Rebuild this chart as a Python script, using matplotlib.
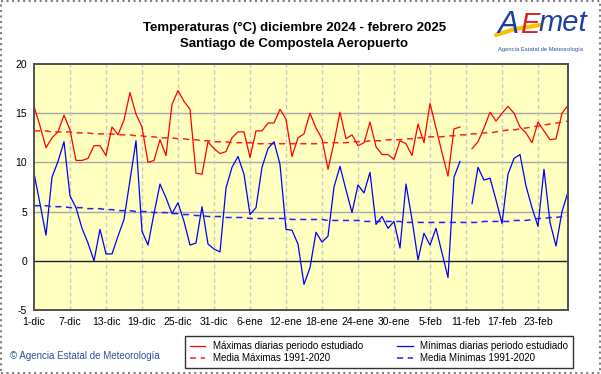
import matplotlib
matplotlib.use("Agg")
import matplotlib.pyplot as plt
import numpy as np
from matplotlib.patches import Rectangle
from matplotlib.lines import Line2D

# daily values, 1 Dec 2024 .. 28 Feb 2025 (None = missing day)
max_temp = [15.7, 13.7, 11.5, 12.5, 13.1, 14.8, 13.3, 10.2, 10.2, 10.4,
            11.7, 11.7, 10.7, 13.6, 12.8, 14.3, 17.1, 14.9, 13.6, 10.0,
            10.2, 12.3, 10.7, 15.9, 17.3, 16.2, 15.4, 8.9, 8.8, 12.1,
            11.4, 10.9, 11.1, 12.5, 13.1, 13.1, 10.5, 13.2, 13.2, 14.0,
            14.0, 15.4, 14.4, 10.6, 12.5, 12.9, 15.0, 13.5, 12.4, 9.3,
            12.0, 15.1, 12.4, 12.8, 11.7, 12.0, 14.1, 11.6, 10.8, 10.8,
            10.3, 12.2, 11.9, 10.7, 13.9, 12.0, 16.0, 13.5, 11.0, 8.6,
            13.4, 13.6, None, 11.4, 12.1, 13.5, 15.1, 14.2, 15.0, 15.7,
            15.0, 13.6, 13.0, 12.0, 14.1, 13.2, 12.3, 12.4, 15.0, 15.8]

min_temp = [8.9, 5.8, 2.6, 8.5, 10.1, 12.1, 6.6, 5.4, 3.3, 1.8,
            0.0, 3.2, 0.7, 0.7, 2.5, 4.2, 8.2, 12.2, 3.0, 1.6,
            4.8, 7.8, 6.4, 4.8, 5.9, 4.0, 1.6, 1.8, 5.5, 1.7,
            1.2, 0.9, 7.4, 9.5, 10.6, 8.8, 4.7, 5.4, 9.5, 11.4,
            12.1, 9.8, 3.2, 3.1, 1.7, -2.4, -0.7, 2.9, 1.9, 2.5,
            7.5, 9.6, 7.2, 4.9, 7.7, 6.9, 9.0, 3.7, 4.5, 3.3,
            4.0, 1.3, 7.8, 4.2, 0.1, 2.8, 1.6, 3.3, 0.8, -1.7,
            8.5, 10.1, None, 5.8, 9.5, 8.2, 8.4, 6.2, 3.8, 8.8,
            10.4, 10.8, 7.6, 5.4, 3.5, 9.3, 3.9, 1.5, 5.0, 7.0]

mean_max = [13.2, 13.2, 13.2, 13.1, 13.1, 13.1, 13.1, 13.0, 13.0, 13.0,
            12.9, 12.9, 12.9, 12.9, 12.8, 12.8, 12.8, 12.7, 12.7, 12.6,
            12.6, 12.5, 12.5, 12.5, 12.4, 12.4, 12.3, 12.3, 12.2, 12.2,
            12.1, 12.1, 12.1, 12.0, 12.0, 12.0, 12.0, 11.9, 11.9, 11.9,
            11.9, 11.9, 11.9, 11.9, 11.9, 11.9, 11.9, 11.9, 12.0, 12.0,
            12.0, 12.0, 12.0, 12.1, 12.1, 12.1, 12.2, 12.2, 12.2, 12.3,
            12.3, 12.3, 12.4, 12.4, 12.5, 12.5, 12.6, 12.6, 12.6, 12.7,
            12.7, 12.8, 12.8, 12.9, 12.9, 13.0, 13.0, 13.1, 13.2, 13.3,
            13.3, 13.4, 13.5, 13.6, 13.7, 13.8, 13.9, 14.0, 14.1, 14.2]

mean_min = [5.6, 5.6, 5.6, 5.5, 5.5, 5.5, 5.4, 5.4, 5.4, 5.3,
            5.3, 5.3, 5.2, 5.2, 5.1, 5.1, 5.1, 5.0, 5.0, 5.0,
            4.9, 4.9, 4.9, 4.8, 4.8, 4.7, 4.7, 4.6, 4.6, 4.5,
            4.5, 4.5, 4.4, 4.4, 4.4, 4.4, 4.3, 4.3, 4.3, 4.3,
            4.3, 4.3, 4.3, 4.2, 4.2, 4.2, 4.2, 4.2, 4.2, 4.1,
            4.1, 4.1, 4.1, 4.1, 4.1, 4.0, 4.0, 4.0, 4.0, 4.0,
            4.0, 4.0, 3.9, 3.9, 3.9, 3.9, 3.9, 3.9, 3.9, 3.9,
            3.9, 3.9, 3.9, 3.9, 3.9, 4.0, 4.0, 4.0, 4.0, 4.0,
            4.1, 4.1, 4.1, 4.2, 4.3, 4.3, 4.4, 4.4, 4.5, 4.6]

tick_labels = ["1-dic", "7-dic", "13-dic", "19-dic", "25-dic", "31-dic",
               "6-ene", "12-ene", "18-ene", "24-ene", "30-ene",
               "5-feb", "11-feb", "17-feb", "23-feb"]

plt.rcParams['font.family'] = ['Liberation Sans', 'DejaVu Sans']
plt.rcParams['axes.unicode_minus'] = False

days = np.arange(len(max_temp))
mx = np.array([np.nan if v is None else v for v in max_temp])
mn = np.array([np.nan if v is None else v for v in min_temp])

fig = plt.figure(figsize=(6.01, 3.74), dpi=100)
ax = fig.add_axes([34/601, 64/374, 534/601, 246/374])
ax.set_facecolor('#ffffc0')

ax.plot(days, mx, color='#ff0000', lw=0.9, label='Máximas diarias periodo estudiado')
ax.plot(days, mean_max, color='#ff2020', lw=1.1, ls=(0, (4, 3)), label='Media Máximas 1991-2020')
ax.plot(days, mn, color='#0000ff', lw=0.9, label='Mínimas diarias periodo estudiado')
ax.plot(days, mean_min, color='#2020ff', lw=1.1, ls=(0, (4, 3)), label='Media Mínimas 1991-2020')

ax.set_xlim(0, len(days) - 1)
ax.set_ylim(-5, 20)
ax.set_yticks([-5, 0, 5, 10, 15, 20])
ax.set_xticks(days[::6])
ax.set_xticklabels(tick_labels)
ax.tick_params(length=0, labelsize=7.5, pad=5)

for y in [5, 10, 15]:
    ax.axhline(y, color='#a8a8a8', lw=1, zorder=0)
ax.axhline(0, color='#202020', lw=1, zorder=1)
for x in days[::6][1:]:
    ax.axvline(x, color='#c8c8c8', lw=1, ls=(0, (3, 2)), zorder=0)
for s in ax.spines.values():
    s.set_color('#505050')
    s.set_linewidth(1.4)

fig.text(0.49, 1 - 36/374, 'Temperaturas (°C) diciembre 2024 - febrero 2025\nSantiago de Compostela Aeropuerto',
         ha='center', va='center', fontsize=9.5, fontweight='bold',
         family=['Liberation Sans Narrow', 'Liberation Sans', 'DejaVu Sans'], linespacing=1.4)

# AEMET logo (approximation)
fig.text(508/601, 1 - 25/374, 'A', color='#1f3fa0', fontsize=23, style='italic', ha='center', va='center')
fig.text(530/601, 1 - 25/374, 'E', color='#e02020', fontsize=21, style='italic', ha='center', va='center')
fig.text(563/601, 1 - 23/374, 'met', color='#1f3fa0', fontsize=21, style='italic', ha='center', va='center')
fig.add_artist(Line2D([496/601, 515/601, 540/601], [1 - 35/374, 1 - 29/374, 1 - 25/374],
                      color='#f5c400', lw=3, solid_capstyle='round'))
fig.text(541/601, 1 - 50/374, 'Agencia Estatal de Meteorología', color='#3050a0', fontsize=4.2,
         ha='center', va='center')

fig.text(10/601, 1 - 356/374, '© Agencia Estatal de Meteorología', color='#3050a0', fontsize=7,
         ha='left', va='center')

h, l = ax.get_legend_handles_labels()
leg = fig.legend(h, l, ncol=2, loc='center', bbox_to_anchor=(379/601, 1 - 352/374),
                 fontsize=7, frameon=True, fancybox=False, edgecolor='black',
                 handlelength=1.6, handletextpad=0.8, columnspacing=3.5,
                 borderpad=0.5, labelspacing=0.2)
leg.get_frame().set_linewidth(1)

fig.add_artist(Rectangle((0.002, 0.003), 0.996, 0.994, transform=fig.transFigure, fill=False,
                         edgecolor='#808080', lw=1.5, ls=':'))

fig.savefig('out.png', dpi=100)
